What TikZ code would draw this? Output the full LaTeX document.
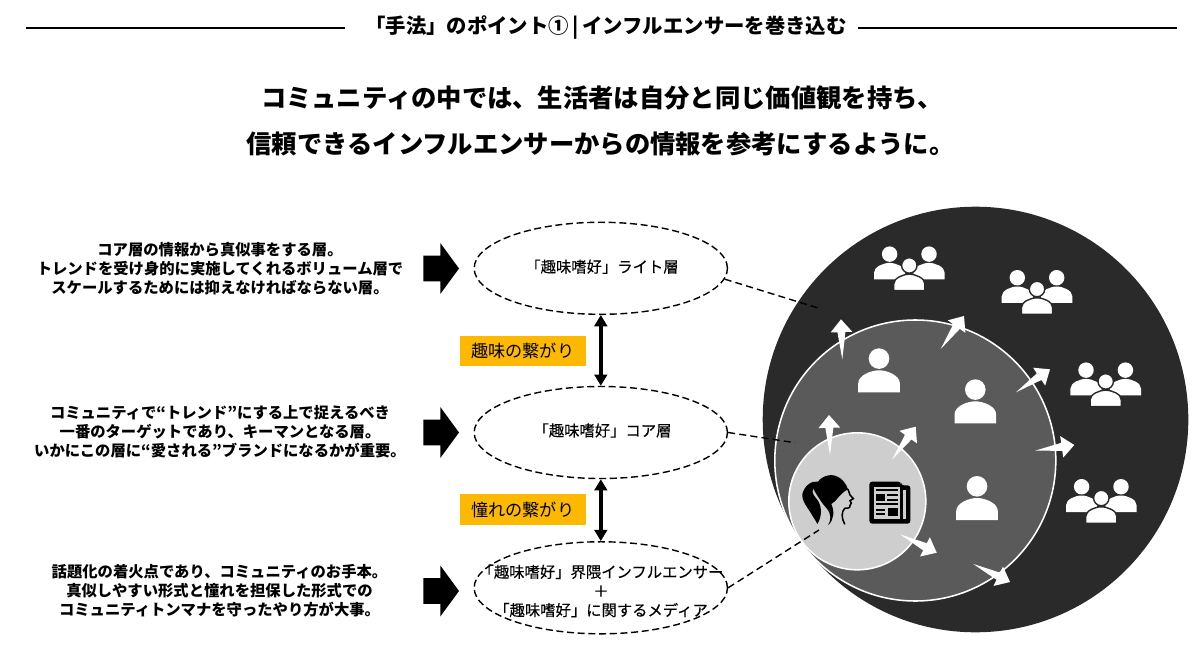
\documentclass[tikz,border=0pt]{standalone}
\usepackage{fontspec}
\setmainfont{Noto Sans CJK JP}
\newfontfamily\midfont[FakeBold=0.25]{Noto Sans CJK JP}
\usetikzlibrary{calc}
\usetikzlibrary{arrows.meta}
\usetikzlibrary{shapes.geometric}

\definecolor{outerfill}{HTML}{2A2A2A}
\definecolor{midfill}{HTML}{5A5A5A}
\definecolor{innerfill}{HTML}{CFCECF}
\definecolor{tagfill}{HTML}{FDB900}

\newcommand{\burst}[2]{
  \coordinate (ba) at (#1);
  \coordinate (bb) at (#2);
  \coordinate (bh) at ($(ba)!0.68!(bb)$);
  \fill[white] (ba) -- ($(bh)!0.1cm!90:(bb)$) -- ($(bh)!0.27cm!90:(bb)$) -- (bb)
    -- ($(bh)!0.27cm!-90:(bb)$) -- ($(bh)!0.1cm!-90:(bb)$) -- cycle;
}

\tikzset{
  pics/person/.style={code={
    \path[pic actions] (0,-33.7) circle (10.3);
    \path[pic actions] (-20.8,0) -- (-20.8,-9) .. controls (-20.8,-17) and (-8,-22) .. (0,-22)
      .. controls (8,-22) and (20.8,-17) .. (20.8,-9) -- (20.8,0) -- cycle;
  }},
  pics/crowd/.style={code={
    \pic[scale=.75, fill=white] at (-19.7,-11.3) {person};
    \pic[scale=.75, fill=white] at (19.7,-11.3) {person};
    \pic[scale=.75, fill=white, draw=outerfill, line width=1pt] at (0,0) {person};
  }},
  pics/blockarrow/.style={code={
    \fill[black] (0,-12.8) -- (17,-12.8) -- (17,-25.5) -- (35.7,0) -- (17,25.5) -- (17,12.8) -- (0,12.8) -- cycle;
  }}
}

\begin{document}
\begin{tikzpicture}[x=0.025cm, y=-0.025cm,
    headrule/.style={line width=1.1pt, black},
    headline/.style={inner sep=0, font=\bfseries\fontsize{14.5}{17}\selectfont},
    titleline/.style={inner sep=0, font=\bfseries\fontsize{18}{22}\selectfont},
    desc/.style={inner sep=0, align=center, font=\bfseries\fontsize{10.9}{13.4}\selectfont},
    layer/.style={draw, ellipse, inner sep=0, line width=1pt, dash pattern=on 5pt off 2.6pt,
      minimum width=6.33cm, minimum height=2.3cm},
    layertext/.style={inner sep=0, align=center, font=\midfont\fontsize{10.9}{13.6}\selectfont},
    tag/.style={fill=tagfill, inner sep=0, minimum width=3.14cm, minimum height=0.76cm,
      font=\fontsize{12.2}{15}\selectfont},
    linkarrow/.style={line width=2.8pt, {Triangle[length=8pt, width=9pt]}-{Triangle[length=8pt, width=9pt]}},
    pointer/.style={line width=1pt, dash pattern=on 5pt off 3pt}
  ]
  \useasboundingbox (0,0) rectangle (1200,648);

  % header
  \node[headline] (head) at (606,28) {「手法」のポイント①\,|\,インフルエンサーを巻き込む};
  \draw[headrule] (26,28) -- (345,28);
  \draw[headrule] (858,28) -- (1177,28);
  \node[titleline] (title1) at (602,98) {コミュニティの中では、生活者は自分と同じ価値観を持ち、};
  \node[titleline] (title2) at (600.5,144) {信頼できるインフルエンサーからの情報を参考にするように。};

  % left texts
  \node[desc] (desc1) at (220,269) {コア層の情報から真似事をする層。\\トレンドを受け身的に実施してくれるボリューム層で\\スケールするためには抑えなければならない層。};
  \node[desc] (desc2) at (220,432) {コミュニティで“トレンド”にする上で捉えるべき\\一番のターゲットであり、キーマンとなる層。\\いかにこの層に“愛される”ブランドになるかが重要。};
  \node[desc] (desc3) at (219.5,591) {話題化の着火点であり、コミュニティのお手本。\\真似しやすい形式と憧れを担保した形式での\\コミュニティトンマナを守ったやり方が大事。};

  \pic at (423.3,268.5) {blockarrow};
  \pic at (423.3,432.5) {blockarrow};
  \pic at (423.3,591) {blockarrow};

  % layers
  \node[layer] (light) at (600.8,268.3) {};
  \node[layer] (core) at (600.8,432.5) {};
  \node[layer] (media) at (600.8,587.8) {};
  \node[layertext] (lighttext) at (602,266.7) {「趣味嗜好」ライト層};
  \node[layertext] (coretext) at (602.5,430.5) {「趣味嗜好」コア層};
  \node[layertext] (mediatext) at (601,591) {「趣味嗜好」界隈インフルエンサー\\＋\\「趣味嗜好」に関するメディア};

  \node[tag] (tag1) at (522.8,351) {趣味の繋がり};
  \node[tag] (tag2) at (522.8,509.6) {憧れの繋がり};
  \draw[linkarrow] (light.south) -- (core.north);
  \draw[linkarrow] (core.south) -- (media.north);

  % circles
  \draw[draw=none, fill=outerfill] (975.5,419.5) circle (212.8);
  \draw[draw=white, line width=1.1pt, fill=midfill] (915.3,460.5) circle (140.5);
  \draw[draw=white, line width=1.1pt, fill=innerfill] (857.3,501.3) circle (68.5);

  % pointers
  \coordinate (lightend) at (818,308);
  \coordinate (coreend) at (795,442.7);
  \coordinate (mediaend) at (819,530);
  \draw[pointer] (light.355) -- (lightend);
  \draw[pointer] (core.east) -- (coreend);
  \draw[pointer] (media.east) -- (mediaend);

  % people
  \pic[fill=white] at (879,392.3) {person};
  \pic[fill=white] at (975.3,423.3) {person};
  \pic[fill=white] at (977,520) {person};
  \pic at (909.3,290.7) {crowd};
  \pic at (1037,314.3) {crowd};
  \pic at (1105.7,406.7) {crowd};
  \pic at (1101.3,523.3) {crowd};

  % outward arrows
  \foreach \xa/\ya/\xb/\yb in {842.3/359.3/841/319.3, 940.7/349/964/316, 1016/392.3/1050/369.3,
      1035/450.7/1074.3/445, 973.3/564/1010/582, 830/455/829/415,
      892.3/459.3/915.7/426.7, 900/534.3/936.7/552.7}
    {\burst{\xa,\ya}{\xb,\yb}}

  % woman
  \begin{scope}[shift={(798,470)}, scale=1/3]
    \fill[black] (150,58) .. controls (140,28) and (115,12) .. (92,16)
      .. controls (78,18) and (66,26) .. (60,35)
      .. controls (40,30) and (18,50) .. (13,72)
      .. controls (10,95) and (35,120) .. (42,135)
      .. controls (48,145) and (55,155) .. (58,162)
      .. controls (72,140) and (72,112) .. (60,92)
      .. controls (50,78) and (40,72) .. (45,55)
      .. controls (58,78) and (72,100) .. (86,115)
      .. controls (100,132) and (100,150) .. (90,166)
      .. controls (108,150) and (110,125) .. (100,102)
      .. controls (115,95) and (125,70) .. (150,58) -- cycle;
    \draw[black, line width=1.1pt, line cap=round] (150,58) -- (156,75) -- (166,86) -- (156,92)
      .. controls (162,97) and (160,103) .. (156,106)
      .. controls (158,114) and (148,116) .. (140,115)
      .. controls (130,125) and (130,145) .. (140,162);
  \end{scope}

  % newspaper
  \begin{scope}[shift={(865,478)}, scale=1/3]
    \fill[black, rounded corners=2pt] (13,11) -- (108,11) -- (108,22) -- (136,22) -- (136,137) -- (13,137) -- cycle;
    \fill[innerfill] (27,27) rectangle (104,122);
    \fill[innerfill] (115,35) rectangle (123,122);
    \fill[black] (32,32) rectangle (100,40);
    \fill[black] (33,47) rectangle (60,70);
    \fill[black] (66,47) rectangle (100,54);
    \fill[black] (66,62) rectangle (100,68);
    \fill[black] (33,76) rectangle (100,81);
    \fill[black] (33,92) rectangle (60,98);
    \fill[black] (33,106) rectangle (60,112);
    \fill[black] (68,91) rectangle (100,113);
  \end{scope}
\end{tikzpicture}
\end{document}
